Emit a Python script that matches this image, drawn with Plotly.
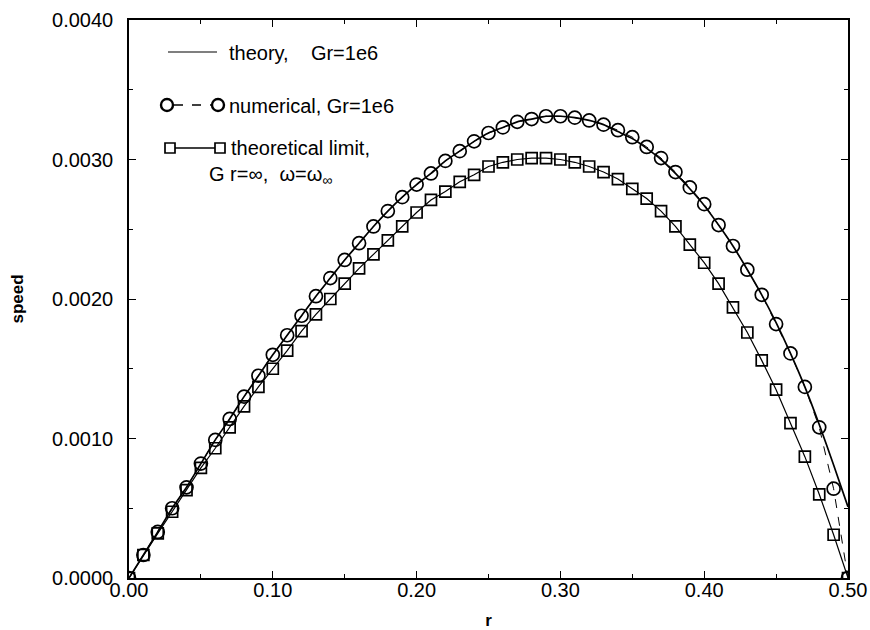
import plotly.graph_objects as go

# ---- data ----
r = [0.00, 0.01, 0.02, 0.03, 0.04, 0.05, 0.06, 0.07, 0.08, 0.09,
     0.10, 0.11, 0.12, 0.13, 0.14, 0.15, 0.16, 0.17, 0.18, 0.19,
     0.20, 0.21, 0.22, 0.23, 0.24, 0.25, 0.26, 0.27, 0.28, 0.29,
     0.30, 0.31, 0.32, 0.33, 0.34, 0.35, 0.36, 0.37, 0.38, 0.39,
     0.40, 0.41, 0.42, 0.43, 0.44, 0.45, 0.46, 0.47, 0.48, 0.49, 0.50]

numerical = [0.0, 0.000165, 0.00033, 0.0005, 0.00065, 0.00082, 0.00099, 0.00114, 0.0013, 0.00145,
             0.0016, 0.00174, 0.00188, 0.00202, 0.00215, 0.00228, 0.0024, 0.00252, 0.00263, 0.00273,
             0.00282, 0.0029, 0.00299, 0.00306, 0.00313, 0.00319, 0.00323, 0.00327, 0.00329, 0.00331,
             0.00331, 0.0033, 0.00328, 0.00325, 0.00321, 0.00316, 0.00309, 0.00301, 0.00291, 0.0028,
             0.00268, 0.00253, 0.00238, 0.00221, 0.00203, 0.00182, 0.00161, 0.00137, 0.00108, 0.00064, 0.0]

theory = [0.0, 0.000165, 0.00033, 0.0005, 0.00065, 0.00082, 0.00099, 0.00114, 0.0013, 0.00145,
          0.0016, 0.00174, 0.00188, 0.00202, 0.00215, 0.00228, 0.0024, 0.00252, 0.00263, 0.00273,
          0.00282, 0.0029, 0.00299, 0.00306, 0.00313, 0.00319, 0.00323, 0.00327, 0.00329, 0.00331,
          0.00331, 0.0033, 0.00328, 0.00325, 0.0032, 0.00315, 0.00308, 0.003, 0.0029, 0.00279,
          0.00267, 0.00253, 0.00238, 0.00221, 0.00203, 0.00183, 0.00161, 0.00137, 0.0011, 0.00081, 0.00051]

limit = [0.0, 0.000165, 0.00032, 0.000475, 0.00063, 0.00079, 0.00093, 0.00108, 0.00123, 0.00137,
         0.0015, 0.00163, 0.00177, 0.00189, 0.002, 0.00211, 0.00222, 0.00232, 0.00242, 0.00252,
         0.00262, 0.00271, 0.00277, 0.00284, 0.00289, 0.00295, 0.00298, 0.003, 0.00301, 0.00301,
         0.003, 0.00298, 0.00295, 0.00291, 0.00286, 0.00279, 0.00272, 0.00263, 0.00252, 0.00239,
         0.00226, 0.00211, 0.00194, 0.00176, 0.00156, 0.00135, 0.00111, 0.00087, 0.0006, 0.00031, 0.0]

x_ticks = [0.0, 0.1, 0.2, 0.3, 0.4, 0.5]
x_labels = ["0.00", "0.10", "0.20", "0.30", "0.40", "0.50"]
y_ticks = [0.0, 0.001, 0.002, 0.003, 0.004]
y_labels = ["0.0000", "0.0010", "0.0020", "0.0030", "0.0040"]

legend_text = ["theory,    Gr=1e6", "numerical, Gr=1e6", "theoretical limit,",
               "G r=\u221e,  \u03c9=\u03c9<sub>\u221e</sub>"]

FONT = "Liberation Sans, Arial, sans-serif"
W, H = 870, 630
L, R, T, B = 129, 22, 20, 52
PW, PH = W - L - R, H - T - B

def px(x):  # screen pixel -> paper
    return (x - L) / PW

def py(y):
    return (H - B - y) / PH

fig = go.Figure()

fig.add_trace(go.Scatter(
    x=r, y=numerical, mode="lines+markers",
    line=dict(color="black", width=1, dash="dash"),
    marker=dict(symbol="circle-open", size=13, color="black", line=dict(width=1.7)),
    showlegend=False))

fig.add_trace(go.Scatter(
    x=r, y=limit, mode="lines+markers",
    line=dict(color="black", width=1.2),
    marker=dict(symbol="square-open", size=11, color="black", line=dict(width=1.7)),
    showlegend=False))

fig.add_trace(go.Scatter(
    x=r, y=theory, mode="lines",
    line=dict(color="black", width=1.7, shape="spline", smoothing=0.6),
    showlegend=False))

# ---- hand-drawn style legend ----
shapes = []
annotations = []
LEG = dict(family=FONT, size=20, color="black")
# theory
shapes.append(dict(type="line", xref="paper", yref="paper",
                   x0=px(168), x1=px(217), y0=py(52), y1=py(52),
                   line=dict(color="black", width=1.2)))
annotations.append(dict(text=legend_text[0], x=px(227), y=py(53), xref="paper", yref="paper",
                        xanchor="left", yanchor="middle", showarrow=False, font=LEG))
# numerical
shapes.append(dict(type="line", xref="paper", yref="paper",
                   x0=px(174), x1=px(211), y0=py(105), y1=py(105),
                   line=dict(color="black", width=1.3, dash="dash")))
for cx in (167, 218):
    shapes.append(dict(type="circle", xref="paper", yref="paper",
                       xsizemode="pixel", ysizemode="pixel",
                       xanchor=px(cx), yanchor=py(105), x0=-6, x1=6, y0=-6, y1=6,
                       line=dict(color="black", width=2.4)))
annotations.append(dict(text=legend_text[1], x=px(227), y=py(106), xref="paper", yref="paper",
                        xanchor="left", yanchor="middle", showarrow=False, font=LEG))
# theoretical limit
shapes.append(dict(type="line", xref="paper", yref="paper",
                   x0=px(175), x1=px(215), y0=py(148), y1=py(148),
                   line=dict(color="black", width=1.3)))
for cx in (170, 220):
    shapes.append(dict(type="rect", xref="paper", yref="paper",
                       xsizemode="pixel", ysizemode="pixel",
                       xanchor=px(cx), yanchor=py(148), x0=-5, x1=5, y0=-5, y1=5,
                       line=dict(color="black", width=1.7)))
annotations.append(dict(text=legend_text[2], x=px(229), y=py(148), xref="paper", yref="paper",
                        xanchor="left", yanchor="middle", showarrow=False, font=LEG))
annotations.append(dict(text=legend_text[3], x=px(207), y=py(176), xref="paper", yref="paper",
                        xanchor="left", yanchor="middle", showarrow=False,
                        font=dict(family=FONT, size=20, color="black")))

axis_common = dict(
    showgrid=False, zeroline=False, showline=True, linecolor="black", linewidth=1.6,
    mirror="allticks", ticks="inside", ticklen=7, tickwidth=1.3, tickcolor="black",
    tickfont=dict(family=FONT, size=20, color="black"),
)

TITLE = dict(family=FONT, size=17, color="black", weight="bold")

fig.update_layout(
    width=W, height=H,
    margin=dict(l=L, r=R, t=T, b=B, pad=0, autoexpand=False),
    paper_bgcolor="white", plot_bgcolor="white",
    xaxis=dict(range=[0, 0.5], tickvals=x_ticks, ticktext=x_labels,
               minor=dict(tickvals=[0.05, 0.15, 0.25, 0.35, 0.45], ticks="inside",
                          ticklen=4, tickcolor="black", tickwidth=1),
               ticklabelstandoff=-7, ticklabeloverflow="allow",
               title=dict(text="r", font=TITLE, standoff=14),
               **axis_common),
    yaxis=dict(range=[0, 0.004], tickvals=y_ticks, ticktext=y_labels,
               minor=dict(tickvals=[0.0005, 0.0015, 0.0025, 0.0035], ticks="inside",
                          ticklen=4, tickcolor="black", tickwidth=1),
               ticklabelstandoff=10,
               title=dict(text="speed", font=TITLE, standoff=24),
               **axis_common),
    shapes=shapes, annotations=annotations,
)

fig.write_html(
    "out.html",
    config={"displayModeBar": False},
    post_script="document.body.style.margin='0';document.body.style.overflow='hidden';",
)
